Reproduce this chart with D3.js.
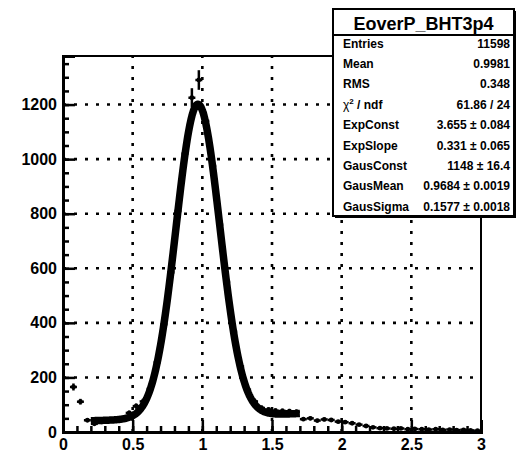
<!DOCTYPE html>
<html>
<head>
<meta charset="utf-8">
<script src="https://cdn.jsdelivr.net/npm/d3@7"></script>
<style>
  body { margin: 0; background: #fff; }
  svg { display: block; }
  text { font-family: "Liberation Sans", Arial, Helvetica, sans-serif; font-weight: bold; }
</style>
</head>
<body>
<svg id="chart" width="521" height="455"></svg>
<script>
// ---- data ----
const binCenters = [0.025,0.075,0.125,0.175,0.225,0.275,0.325,0.375,0.425,0.475,
  0.525,0.575,0.625,0.675,0.725,0.775,0.825,0.875,0.925,0.975,
  1.025,1.075,1.125,1.175,1.225,1.275,1.325,1.375,1.425,1.475,
  1.525,1.575,1.625,1.675,1.725,1.775,1.825,1.875,1.925,1.975,
  2.025,2.075,2.125,2.175,2.225,2.275,2.325,2.375,2.425,2.475,
  2.525,2.575,2.625,2.675,2.725,2.775,2.825,2.875,2.925,2.975];
const binCounts = [0,165,111,43,30,37,40,42,47,70,
  95,112,158,255,395,585,810,1020,1225,1290,
  1140,975,760,550,368,240,155,112,88,82,
  78,77,76,74,47,50,42,46,44,38,
  36,32,27,22,17,14,13,12,13,10,
  11,10,9,10,8,9,7,8,6,5];
const binWidth = 0.05;
const xTicks = [0, 0.5, 1, 1.5, 2, 2.5, 3];
const yTicks = [0, 200, 400, 600, 800, 1000, 1200];
const fitRange = [0.2, 1.7];
// fit parameters (expo + gaus), as printed in the stats box
const fitParams = { ExpConst: 3.655, ExpSlope: 0.331, GausConst: 1148, GausMean: 0.9684, GausSigma: 0.1577 };
const statsTitle = "EoverP_BHT3p4";
const statsLabels = ["Entries", "Mean", "RMS", "chi2", "ExpConst", "ExpSlope", "GausConst", "GausMean", "GausSigma"];
const statsValues = ["11598", "0.9981", "0.348", "61.86 / 24", "3.655 \u00b1 0.084", "0.331 \u00b1 0.065",
  "1148 \u00b1 16.4", "0.9684 \u00b1 0.0019", "0.1577 \u00b1 0.0018"];

// ---- layout ----
const svg = d3.select("#chart");
const L = 63, R = 481, T = 56, B = 432;
const x = d3.scaleLinear().domain([0, 3]).range([L, R]);
const y = d3.scaleLinear().domain([0, 1378]).range([B, T]);

// grid
const grid = svg.append("g");
grid.selectAll("line.gx").data(xTicks.filter(d => d > 0 && d < 3)).join("line")
  .attr("x1", d => x(d)).attr("x2", d => x(d)).attr("y1", B).attr("y2", T)
  .attr("stroke", "#000").attr("stroke-width", 2.6).attr("stroke-dasharray", "3,8");
grid.selectAll("line.gy").data(yTicks.filter(d => d > 0)).join("line")
  .attr("y1", d => y(d)).attr("y2", d => y(d)).attr("x1", L).attr("x2", R)
  .attr("stroke", "#000").attr("stroke-width", 2.6).attr("stroke-dasharray", "3,8");

// frame
svg.append("rect").attr("x", L).attr("y", T).attr("width", R - L).attr("height", B - T)
  .attr("fill", "none").attr("stroke", "#000").attr("stroke-width", 2);

// axes
const fontSize = 16;
const yMinor = d3.range(0, 1378, 50);
svg.append("g").attr("transform", `translate(${L},0)`)
  .call(d3.axisLeft(y).tickValues(yMinor).tickSize(-6).tickFormat(""))
  .call(g => g.select(".domain").remove())
  .selectAll("line").attr("stroke-width", 2.5);
svg.append("g").attr("transform", `translate(${L},0)`)
  .call(d3.axisLeft(y).tickValues(yTicks).tickSize(-12).tickPadding(6).tickFormat(d3.format("d")))
  .call(g => g.select(".domain").attr("stroke-width", 3))
  .call(g => g.selectAll("line").attr("stroke-width", 2.5))
  .call(g => g.selectAll("text").attr("font-size", fontSize).attr("fill", "#000")
     .style("font-family", "'Liberation Sans', Arial, sans-serif").style("font-weight", "bold"));

const xMinor = d3.range(0, 3.001, 0.1);
svg.append("g").attr("transform", `translate(0,${B})`)
  .call(d3.axisBottom(x).tickValues(xMinor).tickSize(-6).tickFormat(""))
  .call(g => g.select(".domain").remove())
  .selectAll("line").attr("stroke-width", 2.5);
svg.append("g").attr("transform", `translate(0,${B})`)
  .call(d3.axisBottom(x).tickValues(xTicks).tickSize(-12).tickPadding(7).tickFormat(d => String(d)))
  .call(g => g.select(".domain").attr("stroke-width", 3))
  .call(g => g.selectAll("line").attr("stroke-width", 2.5))
  .call(g => g.selectAll("text").attr("font-size", fontSize).attr("fill", "#000")
     .style("font-family", "'Liberation Sans', Arial, sans-serif").style("font-weight", "bold"));

// data points (bin-width bars + sqrt(N) error bars + marker)
const pts = svg.append("g");
const data = binCenters.map((c, i) => ({ c, n: binCounts[i] })).filter(d => d.n > 0);
pts.selectAll("line.h").data(data).join("line")
  .attr("x1", d => x(d.c - binWidth / 2)).attr("x2", d => x(d.c + binWidth / 2))
  .attr("y1", d => y(d.n)).attr("y2", d => y(d.n))
  .attr("stroke", "#000").attr("stroke-width", 2.5);
pts.selectAll("line.v").data(data).join("line")
  .attr("x1", d => x(d.c)).attr("x2", d => x(d.c))
  .attr("y1", d => y(d.n + Math.sqrt(d.n))).attr("y2", d => y(Math.max(0, d.n - Math.sqrt(d.n))))
  .attr("stroke", "#000").attr("stroke-width", 2.5);
pts.selectAll("circle").data(data).join("circle")
  .attr("cx", d => x(d.c)).attr("cy", d => y(d.n)).attr("r", 2.4).attr("fill", "#000");

// fit curve (from the printed fit parameters)
const p = fitParams;
const fitX = d3.range(fitRange[0], fitRange[1] + 1e-9, (fitRange[1] - fitRange[0]) / 300);
const fitY = fitX.map(v => Math.exp(p.ExpConst + p.ExpSlope * v) +
  p.GausConst * Math.exp(-0.5 * Math.pow((v - p.GausMean) / p.GausSigma, 2)));
svg.append("path")
  .attr("d", d3.line().x((d, i) => x(fitX[i])).y((d, i) => y(fitY[i]))(fitX))
  .attr("fill", "none").attr("stroke", "#000").attr("stroke-width", 7.5).attr("stroke-linejoin", "round");

// stats box
const bx = 333, by = 9, bw = 181, bh = 207;
const box = svg.append("g");
box.append("rect").attr("x", bx + 2).attr("y", by + 2).attr("width", bw).attr("height", bh).attr("fill", "#000");
box.append("rect").attr("x", bx).attr("y", by).attr("width", bw).attr("height", bh)
  .attr("fill", "#fff").attr("stroke", "#000").attr("stroke-width", 2);
box.append("line").attr("x1", bx).attr("x2", bx + bw).attr("y1", 35).attr("y2", 35)
  .attr("stroke", "#000").attr("stroke-width", 2);
box.append("text").attr("x", bx + bw / 2).attr("y", 29.5).attr("text-anchor", "middle")
  .attr("font-size", 18).text(statsTitle);
const rowY = i => 47.5 + i * 20.4;
statsLabels.forEach((lab, i) => {
  const t = box.append("text").attr("x", bx + 10).attr("y", rowY(i)).attr("font-size", 12);
  if (lab === "chi2") {
    t.append("tspan").text("\u03c7").style("font-weight", "normal");
    t.append("tspan").text("2").attr("font-size", 8).attr("dy", -5);
    t.append("tspan").text(" / ndf").attr("dy", 5);
  } else {
    t.text(lab);
  }
  box.append("text").attr("x", bx + bw - 4).attr("y", rowY(i)).attr("text-anchor", "end")
    .attr("font-size", 12).text(statsValues[i]);
});
</script>
</body>
</html>
